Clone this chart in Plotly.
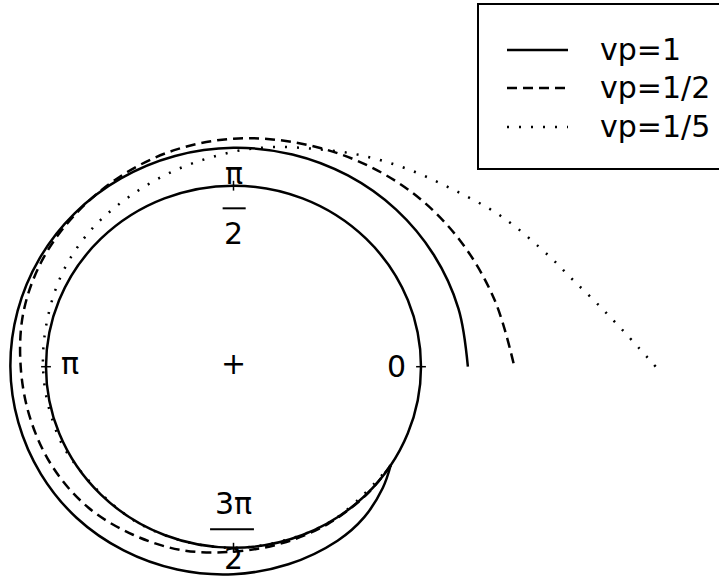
import plotly.graph_objects as go
import numpy as np

# Spiral trajectories sampled in polar form: angle (deg, clockwise = negative)
# and radius in units of the reference circle radius (circle: r = 1)
vp1_theta = [-33, -40, -50, -60, -75, -90, -105, -120, -135, -150, -165, -180, -195,
             -210, -225, -240, -255, -270, -285, -300, -315, -330, -345, -360]
vp1_r = [1.000, 1.040, 1.085, 1.110, 1.130, 1.146, 1.160, 1.172, 1.182, 1.186, 1.188,
         1.190, 1.192, 1.195, 1.198, 1.201, 1.205, 1.209, 1.214, 1.220, 1.227, 1.234,
         1.242, 1.250]

vp2_theta = [-33, -45, -60, -75, -90, -105, -120, -135, -150, -165, -180, -195, -210,
             -225, -240, -255, -270, -285, -300, -315, -330, -345, -360]
vp2_r = [1.000, 1.001, 1.004, 1.009, 1.022, 1.050, 1.072, 1.098, 1.112, 1.121, 1.135,
         1.160, 1.178, 1.192, 1.212, 1.237, 1.260, 1.282, 1.315, 1.355, 1.395, 1.440,
         1.498]

vp5_theta = [-33, -60, -90, -120, -150, -165, -180, -195, -210, -225, -240, -255, -270,
             -280, -290, -300, -310, -320, -330, -340, -345, -350, -355, -360]
vp5_r = [1.000, 1.000, 1.001, 1.002, 1.005, 1.010, 1.016, 1.027, 1.050, 1.072, 1.093,
         1.132, 1.188, 1.232, 1.280, 1.350, 1.430, 1.525, 1.655, 1.790, 1.870, 1.975,
         2.100, 2.252]

series_names = ["vp=1", "vp=1/2", "vp=1/5"]
series_dash = ["solid", "10px,6px", "2px,10px"]

# Angular reference marks on the unit circle
tick_angles = [0, 90, 180, 270]
tick_symbols = ["line-ew", "line-ns", "line-ew", "line-ns"]

FONT = "DejaVu Sans"
W, H = 719, 580

fig = go.Figure()

for th, r, name, dash in zip([vp1_theta, vp2_theta, vp5_theta], [vp1_r, vp2_r, vp5_r],
                             series_names, series_dash):
    t = np.radians(th)
    r = np.asarray(r)
    fig.add_trace(go.Scatter(
        x=r * np.cos(t), y=r * np.sin(t), mode="lines", name=name, showlegend=False,
        line=dict(color="black", width=2.5, dash=dash, shape="spline", smoothing=1.0),
        hoverinfo="skip",
    ))

ang = np.radians(tick_angles)
fig.add_trace(go.Scatter(
    x=np.cos(ang), y=np.sin(ang), mode="markers", showlegend=False, hoverinfo="skip",
    marker=dict(symbol=tick_symbols, size=7, color="black",
                line=dict(color="black", width=1.5)),
))

# unit circle
shapes = [dict(type="circle", xref="x", yref="y", x0=-1, y0=-1, x1=1, y1=1,
               line=dict(color="black", width=2.5))]

# fraction bars for the angle labels
shapes.append(dict(type="line", xref="x", yref="y", x0=-0.058, x1=0.065, y0=0.875, y1=0.875,
                   line=dict(color="black", width=2)))
shapes.append(dict(type="line", xref="x", yref="y", x0=-0.125, x1=0.109, y0=-0.898, y1=-0.898,
                   line=dict(color="black", width=2)))

annotations = []


def label(text, x, y, size=30):
    annotations.append(dict(text=text, x=x, y=y, xref="x", yref="y", showarrow=False,
                            xanchor="center", yanchor="middle",
                            font=dict(family=FONT, size=size, color="black")))


label("0", 0.870, 0.0)
label("π", -0.872, 0.015)
label("+", 0.0, 0.019)
label("π", 0.0, 1.065)
label("2", 0.0, 0.737)
label("3π", 0.0, -0.755)
label("2", 0.0, -1.059)


# legend box with line keys
def px(x):
    return x / W


def py(y):
    return 1 - y / H


shapes.append(dict(type="rect", xref="paper", yref="paper",
                   x0=px(478), x1=px(740), y0=py(169), y1=py(4),
                   line=dict(color="black", width=2), fillcolor="white", layer="above"))
key_rows = [50, 88, 127]
for row, name, dash in zip(key_rows, series_names, series_dash):
    shapes.append(dict(type="line", xref="paper", yref="paper",
                       x0=px(507), x1=px(568), y0=py(row), y1=py(row),
                       line=dict(color="black", width=2.5, dash=dash), layer="above"))
    annotations.append(dict(text=name, x=px(598), y=py(row - 1), xref="paper", yref="paper",
                            showarrow=False, xanchor="left", yanchor="middle",
                            font=dict(family=FONT, size=30, color="black")))

fig.update_layout(
    width=W, height=H,
    margin=dict(l=0, r=0, t=0, b=0),
    paper_bgcolor="white", plot_bgcolor="white",
    xaxis=dict(range=[-233.5 / 187.5, (W - 233.5) / 187.5], visible=False, fixedrange=True),
    yaxis=dict(range=[(366.7 - H) / 181.0, 366.7 / 181.0], visible=False, fixedrange=True),
    shapes=shapes, annotations=annotations, showlegend=False,
)

fig.write_html("out.html")
